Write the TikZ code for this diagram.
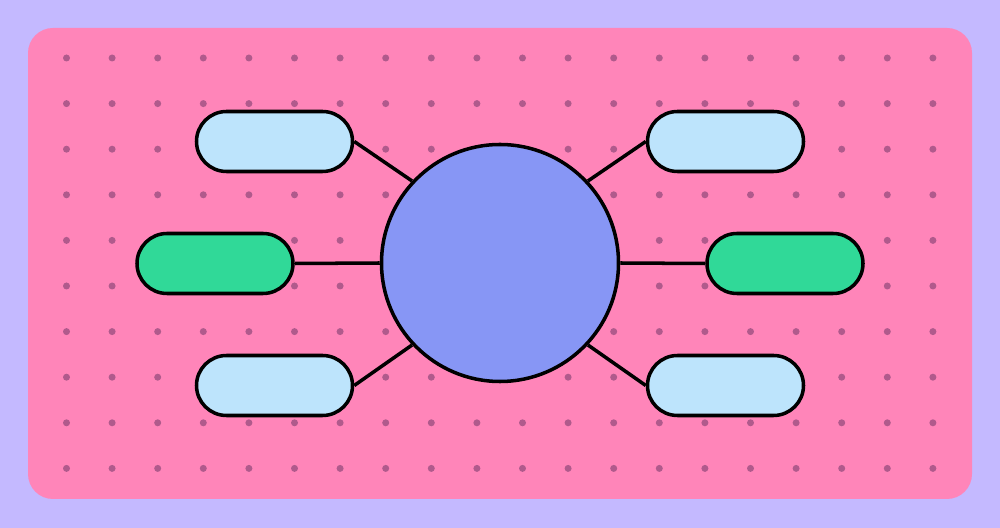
\documentclass[tikz,border=0pt]{standalone}
\usepackage{tikz}
\usetikzlibrary{calc}
\definecolor{lavender}{RGB}{196,185,255}
\definecolor{boardpink}{RGB}{255,133,185}
\definecolor{dotpurple}{RGB}{176,90,140}
\definecolor{hubblue}{RGB}{135,150,245}
\definecolor{leafblue}{RGB}{189,228,252}
\definecolor{leafgreen}{RGB}{48,217,152}

\begin{document}
\begin{tikzpicture}[x=0.2mm, y=-0.2mm,
	outline/.style={draw=black, line width=2pt},
	leaf/.style={outline, rectangle, rounded corners=6mm, minimum width=31.2mm, minimum height=12mm, inner sep=0pt},
	hub/.style={outline, circle, minimum size=47.4mm, inner sep=0pt, fill=hubblue},
	link/.style={draw=black, line width=2pt}]
					\useasboundingbox (0,0) rectangle (1000,528);
					\fill[lavender] (0,0) rectangle (1000,528);
					\fill[boardpink, rounded corners=5mm] (28,28) rectangle (972,499);
					
					\foreach \i in {0,...,19}
						\foreach \j in {0,...,9}
							\fill[dotpurple] (66.5+45.6*\i, 58+45.6*\j) circle (0.7mm);
					
					\node[hub] (H) at (500,263) {};
					
					\node[leaf, fill=leafblue] (TL) at (274.5,141.5) {};
					\node[leaf, fill=leafgreen] (ML) at (215,263.5) {};
					\node[leaf, fill=leafblue] (BL) at (274.5,385.5) {};
					\node[leaf, fill=leafblue] (TR) at (725.5,141.5) {};
					\node[leaf, fill=leafgreen] (MR) at (785,263.5) {};
					\node[leaf, fill=leafblue] (BR) at (725.5,385.5) {};
					
					\draw[link] (TL.east) -- (H.137);
					\draw[link] (ML.east) -- (H.west);
					\draw[link] (BL.east) -- (H.-137);
					\draw[link] (TR.west) -- (H.43);
					\draw[link] (MR.west) -- (H.east);
					\draw[link] (BR.west) -- (H.-43);
				\end{tikzpicture}
\end{document}
